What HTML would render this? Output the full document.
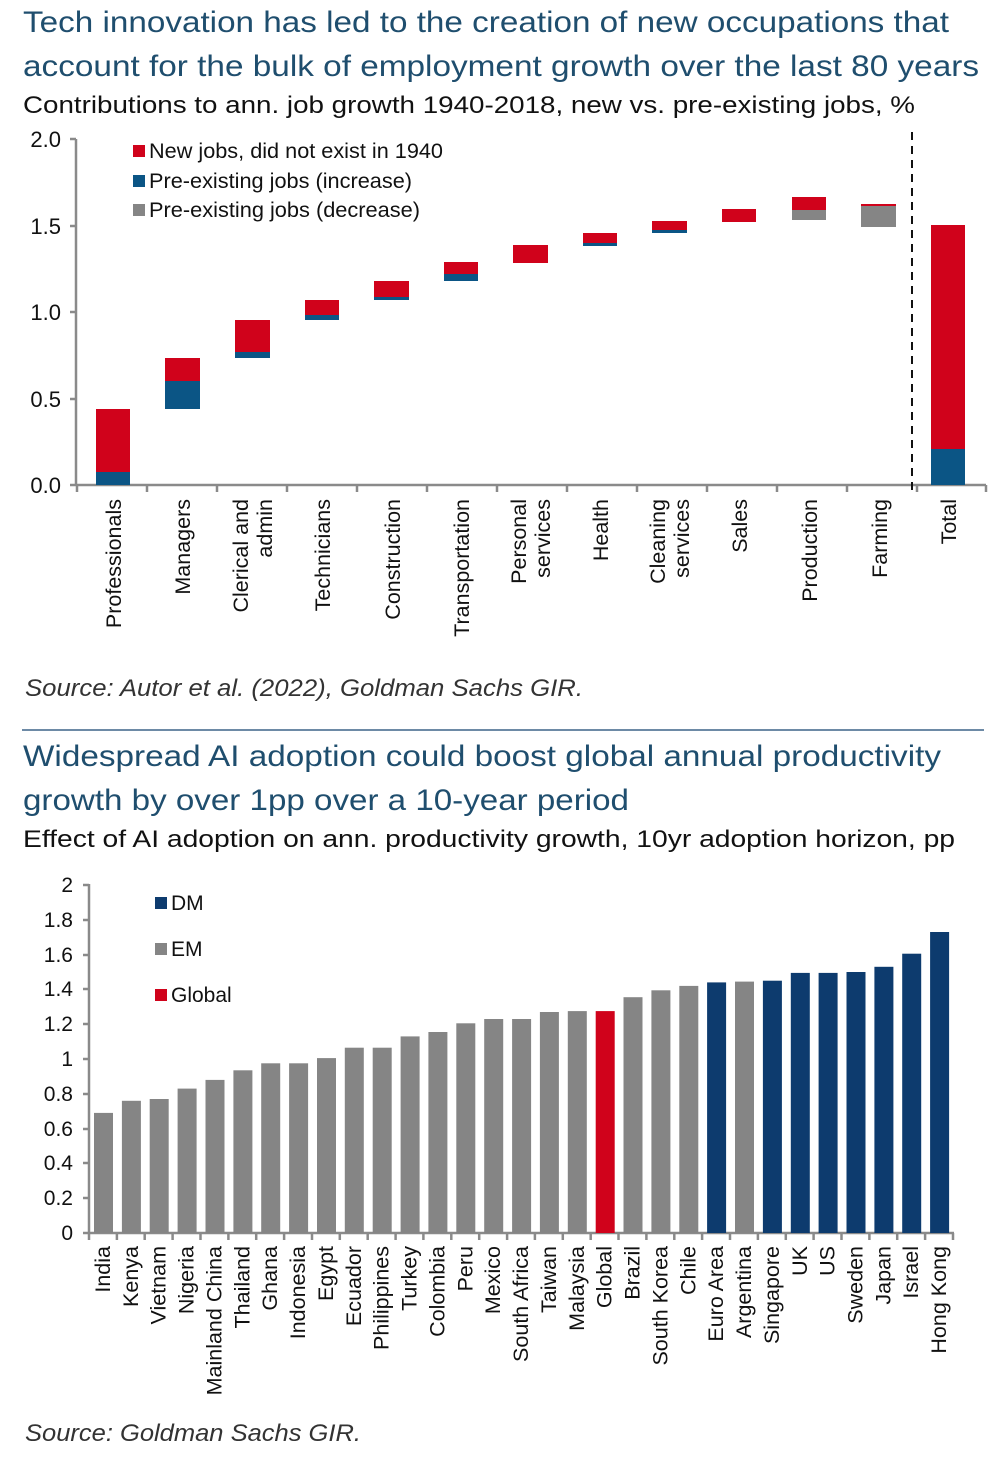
<!DOCTYPE html>
<html><head><meta charset="utf-8"><style>
html,body{margin:0;padding:0;background:#fff}
svg{display:block}
text{font-family:"Liberation Sans",Arial,sans-serif}
</style></head><body>
<svg width="1000" height="1477" viewBox="0 0 1000 1477" xmlns="http://www.w3.org/2000/svg">
<g fill="#1f4e6e" font-size="30">
<text x="23" y="32" textLength="926" lengthAdjust="spacingAndGlyphs">Tech innovation has led to the creation of new occupations that</text>
<text x="23" y="76" textLength="956" lengthAdjust="spacingAndGlyphs">account for the bulk of employment growth over the last 80 years</text>
</g>
<text x="23" y="113" font-size="24" fill="#111" textLength="892" lengthAdjust="spacingAndGlyphs">Contributions to ann. job growth 1940-2018, new vs. pre-existing jobs, %</text>

<g stroke="#8a8a8a" stroke-width="2.5" fill="none">
<line x1="76" y1="139" x2="76" y2="486"/>
<line x1="70" y1="485" x2="986" y2="485"/>
<path d="M70 139h6M70 226h6M70 312h6M70 399h6"/>
<path d="M77 485v7M147 485v7M217 485v7M287 485v7M357 485v7M427 485v7M497 485v7M567 485v7M637 485v7M707 485v7M777 485v7M847 485v7M917 485v7M986 485v7"/>
</g>
<g font-size="22" fill="#111" text-anchor="end">
<text x="61" y="147">2.0</text><text x="61" y="234">1.5</text><text x="61" y="320">1.0</text><text x="61" y="407">0.5</text><text x="61" y="493">0.0</text>
</g>
<line x1="912" y1="132" x2="912" y2="490" stroke="#111" stroke-width="2" stroke-dasharray="8,6"/>
<g>
<rect x="96" y="409" width="34" height="63" fill="#d0021b"/><rect x="96" y="472" width="34" height="13" fill="#0b5585"/>
<rect x="165" y="358" width="35" height="23" fill="#d0021b"/><rect x="165" y="381" width="35" height="28" fill="#0b5585"/>
<rect x="235" y="320" width="35" height="32" fill="#d0021b"/><rect x="235" y="352" width="35" height="6" fill="#0b5585"/>
<rect x="305" y="300" width="34" height="15" fill="#d0021b"/><rect x="305" y="315" width="34" height="5" fill="#0b5585"/>
<rect x="374" y="281" width="35" height="16" fill="#d0021b"/><rect x="374" y="297" width="35" height="3" fill="#0b5585"/>
<rect x="444" y="262" width="34" height="12" fill="#d0021b"/><rect x="444" y="274" width="34" height="7" fill="#0b5585"/>
<rect x="513" y="245" width="35" height="18" fill="#d0021b"/>
<rect x="583" y="233" width="34" height="10" fill="#d0021b"/><rect x="583" y="243" width="34" height="3" fill="#0b5585"/>
<rect x="652" y="221" width="35" height="9" fill="#d0021b"/><rect x="652" y="230" width="35" height="3" fill="#0b5585"/>
<rect x="722" y="209" width="34" height="13" fill="#d0021b"/>
<rect x="792" y="197" width="34" height="13" fill="#d0021b"/><rect x="792" y="210" width="34" height="10" fill="#858585"/>
<rect x="861" y="204" width="35" height="2" fill="#d0021b"/><rect x="861" y="206" width="35" height="21" fill="#858585"/>
<rect x="931" y="225" width="34" height="224" fill="#d0021b"/><rect x="931" y="449" width="34" height="36" fill="#0b5585"/>
</g>
<rect x="133" y="145" width="12" height="12" fill="#d0021b"/>
<rect x="133" y="175" width="12" height="12" fill="#0b5585"/>
<rect x="133" y="204" width="12" height="12" fill="#858585"/>
<g font-size="21" fill="#111">
<text x="149" y="158" textLength="294" lengthAdjust="spacingAndGlyphs">New jobs, did not exist in 1940</text>
<text x="149" y="188" textLength="263" lengthAdjust="spacingAndGlyphs">Pre-existing jobs (increase)</text>
<text x="149" y="217" textLength="271" lengthAdjust="spacingAndGlyphs">Pre-existing jobs (decrease)</text>
</g>
<g font-size="21.5" fill="#111" text-anchor="end">
<text transform="translate(121,499) rotate(-90)">Professionals</text>
<text transform="translate(190,499) rotate(-90)">Managers</text>
<text transform="translate(248,499) rotate(-90)">Clerical and</text>
<text transform="translate(272,499) rotate(-90)">admin</text>
<text transform="translate(330,499) rotate(-90)">Technicians</text>
<text transform="translate(400,499) rotate(-90)">Construction</text>
<text transform="translate(469,499) rotate(-90)">Transportation</text>
<text transform="translate(526,499) rotate(-90)">Personal</text>
<text transform="translate(550,499) rotate(-90)">services</text>
<text transform="translate(608,499) rotate(-90)">Health</text>
<text transform="translate(665,499) rotate(-90)">Cleaning</text>
<text transform="translate(689,499) rotate(-90)">services</text>
<text transform="translate(747,499) rotate(-90)">Sales</text>
<text transform="translate(817,499) rotate(-90)">Production</text>
<text transform="translate(887,499) rotate(-90)">Farming</text>
<text transform="translate(956,499) rotate(-90)">Total</text>
</g>
<text x="25" y="696" font-size="24" font-style="italic" fill="#333" textLength="558" lengthAdjust="spacingAndGlyphs">Source: Autor et al. (2022), Goldman Sachs GIR.</text>

<line x1="22" y1="730" x2="984" y2="730" stroke="#6d8aa6" stroke-width="2"/>

<g fill="#1f4e6e" font-size="30">
<text x="23" y="766" textLength="918" lengthAdjust="spacingAndGlyphs">Widespread AI adoption could boost global annual productivity</text>
<text x="23" y="810" textLength="606" lengthAdjust="spacingAndGlyphs">growth by over 1pp over a 10-year period</text>
</g>
<text x="23" y="847" font-size="24" fill="#111" textLength="932" lengthAdjust="spacingAndGlyphs">Effect of AI adoption on ann. productivity growth, 10yr adoption horizon, pp</text>

<g stroke="#8a8a8a" stroke-width="2.5" fill="none">
<line x1="89" y1="884" x2="89" y2="1234"/>
<line x1="83" y1="1233" x2="954" y2="1233"/>
<path d="M83 885h6M83 920h6M83 955h6M83 989h6M83 1024h6M83 1059h6M83 1094h6M83 1129h6M83 1163h6M83 1198h6"/>
</g>
<g font-size="21" fill="#111" text-anchor="end">
<text x="73" y="892">2</text><text x="73" y="927">1.8</text><text x="73" y="962">1.6</text><text x="73" y="996">1.4</text><text x="73" y="1031">1.2</text><text x="73" y="1066">1</text><text x="73" y="1101">0.8</text><text x="73" y="1136">0.6</text><text x="73" y="1170">0.4</text><text x="73" y="1205">0.2</text><text x="73" y="1240">0</text>
</g>
<g fill="#858585">
<rect x="94.0" y="1112.9" width="19" height="120.1"/>
<rect x="121.9" y="1100.8" width="19" height="132.2"/>
<rect x="149.7" y="1099.0" width="19" height="134.0"/>
<rect x="177.6" y="1088.6" width="19" height="144.4"/>
<rect x="205.5" y="1079.9" width="19" height="153.1"/>
<rect x="233.4" y="1070.3" width="19" height="162.7"/>
<rect x="261.2" y="1063.3" width="19" height="169.7"/>
<rect x="289.1" y="1063.3" width="19" height="169.7"/>
<rect x="317.0" y="1058.1" width="19" height="174.9"/>
<rect x="344.8" y="1047.7" width="19" height="185.3"/>
<rect x="372.7" y="1047.7" width="19" height="185.3"/>
<rect x="400.6" y="1036.4" width="19" height="196.6"/>
<rect x="428.4" y="1032.0" width="19" height="201.0"/>
<rect x="456.3" y="1023.3" width="19" height="209.7"/>
<rect x="484.2" y="1019.0" width="19" height="214.0"/>
<rect x="512.1" y="1019.0" width="19" height="214.0"/>
<rect x="539.9" y="1012.0" width="19" height="221.0"/>
<rect x="567.8" y="1011.1" width="19" height="221.9"/>
<rect x="595.7" y="1011.1" width="19" height="221.9" fill="#d0021b"/>
<rect x="623.5" y="997.2" width="19" height="235.8"/>
<rect x="651.4" y="990.3" width="19" height="242.7"/>
<rect x="679.3" y="985.9" width="19" height="247.1"/>
<rect x="707.1" y="982.4" width="19" height="250.6" fill="#0d3b6e"/>
<rect x="735.0" y="981.6" width="19" height="251.4"/>
<rect x="762.9" y="980.7" width="19" height="252.3" fill="#0d3b6e"/>
<rect x="790.8" y="972.9" width="19" height="260.1" fill="#0d3b6e"/>
<rect x="818.6" y="972.9" width="19" height="260.1" fill="#0d3b6e"/>
<rect x="846.5" y="972.0" width="19" height="261.0" fill="#0d3b6e"/>
<rect x="874.4" y="966.8" width="19" height="266.2" fill="#0d3b6e"/>
<rect x="902.2" y="953.7" width="19" height="279.3" fill="#0d3b6e"/>
<rect x="930.1" y="932.0" width="19" height="301.0" fill="#0d3b6e"/>
</g>
<path stroke="#8a8a8a" stroke-width="2.5" d="M89 1233v7M116.9 1233v7M144.7 1233v7M172.6 1233v7M200.5 1233v7M228.4 1233v7M256.2 1233v7M284.1 1233v7M312 1233v7M339.8 1233v7M367.7 1233v7M395.6 1233v7M423.4 1233v7M451.3 1233v7M479.2 1233v7M507.1 1233v7M534.9 1233v7M562.8 1233v7M590.7 1233v7M618.5 1233v7M646.4 1233v7M674.3 1233v7M702.1 1233v7M730 1233v7M757.9 1233v7M785.8 1233v7M813.6 1233v7M841.5 1233v7M869.4 1233v7M897.2 1233v7M925.1 1233v7M953 1233v7"/>
<rect x="155" y="897" width="12" height="12" fill="#0d3b6e"/>
<rect x="155" y="943" width="12" height="12" fill="#858585"/>
<rect x="155" y="989" width="12" height="12" fill="#d0021b"/>
<g font-size="21" fill="#111">
<text x="171" y="910">DM</text><text x="171" y="956">EM</text><text x="171" y="1002">Global</text>
</g>
<g font-size="21.5" fill="#111" text-anchor="end">
<text transform="translate(110.0,1246) rotate(-90)">India</text>
<text transform="translate(137.9,1246) rotate(-90)">Kenya</text>
<text transform="translate(165.7,1246) rotate(-90)">Vietnam</text>
<text transform="translate(193.6,1246) rotate(-90)">Nigeria</text>
<text transform="translate(221.5,1246) rotate(-90)">Mainland China</text>
<text transform="translate(249.4,1246) rotate(-90)">Thailand</text>
<text transform="translate(277.2,1246) rotate(-90)">Ghana</text>
<text transform="translate(305.1,1246) rotate(-90)">Indonesia</text>
<text transform="translate(333.0,1246) rotate(-90)">Egypt</text>
<text transform="translate(360.8,1246) rotate(-90)">Ecuador</text>
<text transform="translate(388.7,1246) rotate(-90)">Philippines</text>
<text transform="translate(416.6,1246) rotate(-90)">Turkey</text>
<text transform="translate(444.4,1246) rotate(-90)">Colombia</text>
<text transform="translate(472.3,1246) rotate(-90)">Peru</text>
<text transform="translate(500.2,1246) rotate(-90)">Mexico</text>
<text transform="translate(528.1,1246) rotate(-90)">South Africa</text>
<text transform="translate(555.9,1246) rotate(-90)">Taiwan</text>
<text transform="translate(583.8,1246) rotate(-90)">Malaysia</text>
<text transform="translate(611.7,1246) rotate(-90)">Global</text>
<text transform="translate(639.5,1246) rotate(-90)">Brazil</text>
<text transform="translate(667.4,1246) rotate(-90)">South Korea</text>
<text transform="translate(695.3,1246) rotate(-90)">Chile</text>
<text transform="translate(723.1,1246) rotate(-90)">Euro Area</text>
<text transform="translate(751.0,1246) rotate(-90)">Argentina</text>
<text transform="translate(778.9,1246) rotate(-90)">Singapore</text>
<text transform="translate(806.8,1246) rotate(-90)">UK</text>
<text transform="translate(834.6,1246) rotate(-90)">US</text>
<text transform="translate(862.5,1246) rotate(-90)">Sweden</text>
<text transform="translate(890.4,1246) rotate(-90)">Japan</text>
<text transform="translate(918.2,1246) rotate(-90)">Israel</text>
<text transform="translate(946.1,1246) rotate(-90)">Hong Kong</text>
</g>
<text x="25" y="1441" font-size="24" font-style="italic" fill="#333" textLength="336" lengthAdjust="spacingAndGlyphs">Source: Goldman Sachs GIR.</text>
</svg>
</body></html>
